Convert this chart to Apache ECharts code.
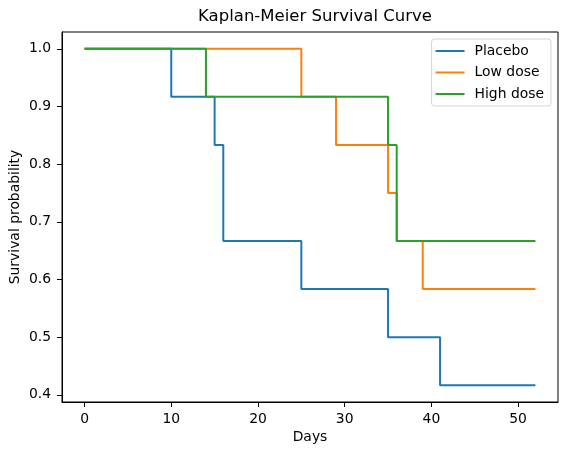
<!DOCTYPE html>
<html>
<head>
<meta charset="utf-8">
<script src="https://cdn.jsdelivr.net/npm/echarts@6/dist/echarts.min.js"></script>
<style>
	body { margin: 0; background: #fff; }
	#chart { width: 567px; height: 455px; }
</style>
</head>
<body>
<div id="chart"></div>
<script>
// survival data (day, probability), step after each event
var groupNames = ['Placebo', 'Low dose', 'High dose'];
var placebo = [[0, 1], [10, 0.9167], [15, 0.8333], [16, 0.6667], [25, 0.5833], [35, 0.5], [41, 0.4167], [52, 0.4167]];
var lowDose = [[0, 1], [25, 0.9167], [29, 0.8333], [35, 0.75], [36, 0.6667], [39, 0.5833], [52, 0.5833]];
var highDose = [[0, 1], [14, 0.9167], [35, 0.8333], [36, 0.6667], [52, 0.6667]];
var xTicks = [0, 10, 20, 30, 40, 50];
var yTicks = [0.4, 0.5, 0.6, 0.7, 0.8, 0.9, 1.0];

var colors = ['#1f77b4', '#ff7f0e', '#2ca02c'];
var font = 'DejaVu Sans';

function makeSeries(name, data) {
	return {
		name: name,
		type: 'line',
		step: 'end',
		data: data,
		symbol: 'none',
		lineStyle: { width: 2 }
	};
}

var chart = echarts.init(document.getElementById('chart'));
chart.setOption({
	animation: false,
	color: colors,
	textStyle: { fontFamily: font },
	title: {
		text: 'Kaplan-Meier Survival Curve',
		left: 310,
		textAlign: 'center',
		top: 3,
		textStyle: { fontFamily: font, fontSize: 16.5, fontWeight: 'normal', color: '#000' }
	},
	legend: {
		data: groupNames,
		orient: 'vertical',
		right: 16,
		top: 39,
		icon: 'rect',
		itemWidth: 29,
		itemHeight: 2,
		itemGap: 5.5,
		padding: [4, 7, 4, 4],
		borderColor: '#d5d5d5',
		borderWidth: 1,
		borderRadius: 3,
		backgroundColor: 'rgba(255,255,255,0.8)',
		textStyle: { fontFamily: font, fontSize: 13.9, lineHeight: 16, padding: [0, 0, 0, 5], color: '#000' }
	},
	grid: {
		left: 62,
		right: 9,
		top: 32,
		bottom: 53,
		outerBoundsMode: 'none',
		containLabel: false,
		show: true,
		borderColor: '#000',
		borderWidth: 1
	},
	xAxis: {
		type: 'value',
		min: -2.6,
		max: 54.6,
		name: 'Days',
		nameLocation: 'middle',
		nameGap: 28,
		nameMoveOverlap: false,
		nameTextStyle: { fontFamily: font, fontSize: 13.9, color: '#000' },
		splitLine: { show: false },
		axisLine: { onZero: false, lineStyle: { color: '#000' } },
		axisTick: { length: 5, customValues: xTicks, lineStyle: { color: '#000' } },
		axisLabel: { customValues: xTicks, margin: 10, fontFamily: font, fontSize: 13.9, color: '#000' }
	},
	yAxis: {
		type: 'value',
		min: 0.3875,
		max: 1.0292,
		name: 'Survival probability',
		nameLocation: 'middle',
		nameGap: 40,
		nameMoveOverlap: false,
		nameTextStyle: { fontFamily: font, fontSize: 13.9, color: '#000' },
		splitLine: { show: false },
		axisLine: { show: true, onZero: false, lineStyle: { color: '#000' } },
		axisTick: { show: true, length: 5, customValues: yTicks, lineStyle: { color: '#000' } },
		axisLabel: {
			customValues: yTicks,
			margin: 11,
			fontFamily: font,
			fontSize: 13.9,
			color: '#000',
			formatter: function(v) {
				return v.toFixed(1);
			}
		}
	},
	series: [
		makeSeries(groupNames[0], placebo),
		makeSeries(groupNames[1], lowDose),
		makeSeries(groupNames[2], highDose)
	]
});
</script>
</body>
</html>
